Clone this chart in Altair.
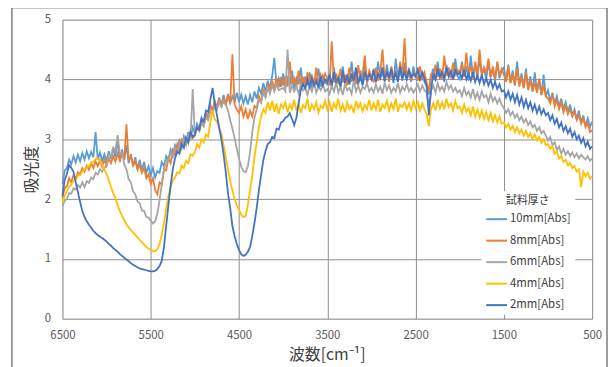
import altair as alt
import pandas as pd

# wavenumber sample positions (cm-1), 6500 -> 500 every 25
wavenumber = list(range(6500, 499, -25))

series_names = ["10mm[Abs]", "8mm[Abs]", "6mm[Abs]", "4mm[Abs]", "2mm[Abs]"]
series_colors = ["#5B9BD5", "#ED7D31", "#A5A5A5", "#FFC000", "#4472C4"]

abs_10mm = [
    2.25, 2.48, 2.52, 2.66, 2.58, 2.72, 2.61, 2.74, 2.63, 2.77, 2.66, 2.80, 2.68, 2.79, 2.70, 3.12, 2.66, 2.78, 2.64, 2.75,
    2.64, 2.80, 2.67, 2.86, 2.70, 3.00, 2.62, 2.83, 2.66, 2.90, 2.60, 2.75, 2.55, 2.70, 2.50, 2.66, 2.48, 2.62, 2.44, 2.55,
    2.40, 2.52, 2.36, 2.47, 2.44, 2.62, 2.55, 2.72, 2.66, 2.83, 2.74, 2.90, 2.80, 2.98, 2.88, 3.05, 2.94, 3.12, 3.00, 3.20,
    3.10, 3.26, 3.18, 3.36, 3.27, 3.45, 3.38, 3.58, 3.47, 3.64, 3.52, 3.70, 3.56, 3.74, 3.58, 3.76, 3.60, 3.72, 3.62, 3.78,
    3.62, 3.75, 3.60, 3.72, 3.58, 3.74, 3.62, 3.80, 3.68, 3.86, 3.76, 3.94, 3.80, 3.98, 3.85, 4.05, 4.36, 3.90, 4.02, 3.88,
    4.10, 3.86, 4.05, 3.90, 4.15, 3.85, 4.02, 3.92, 4.20, 3.88, 4.05, 3.90, 4.12, 3.86, 4.00, 3.94, 4.18, 3.88, 4.06, 3.95,
    3.92, 4.10, 3.88, 4.20, 3.95, 4.05, 3.90, 4.22, 3.94, 4.08, 3.92, 4.30, 3.96, 4.10, 3.90, 4.15, 3.98, 4.25, 3.94, 4.12,
    4.00, 4.18, 3.95, 4.30, 4.02, 4.12, 3.96, 4.25, 4.00, 4.10, 3.94, 4.35, 4.02, 4.15, 3.98, 4.28, 4.00, 4.12, 3.96, 4.22,
    4.02, 4.20, 3.98, 4.12, 3.96, 3.90, 3.75, 4.05, 4.18, 3.98, 4.30, 4.02, 4.15, 3.96, 4.25, 4.04, 4.12, 4.00, 4.35, 4.05,
    4.00, 4.30, 4.05, 4.22, 3.98, 4.40, 4.06, 4.25, 4.02, 4.35, 4.08, 4.20, 4.00, 4.30, 4.04, 4.18, 3.98, 4.28, 4.02, 4.15,
    4.20, 3.98, 4.25, 3.95, 4.15, 3.90, 4.30, 3.92, 4.10, 3.86, 4.18, 3.84, 4.05, 3.80, 4.12, 3.78, 4.00, 3.74, 4.08, 3.72,
    3.82, 3.64, 3.78, 3.60, 3.72, 3.55, 3.68, 3.50, 3.62, 3.46, 3.58, 3.40, 3.50, 3.34, 3.48, 3.28, 3.40, 3.22, 3.35, 3.20, 3.30,
]

abs_8mm = [
    2.02, 2.18, 2.22, 2.35, 2.28, 2.40, 2.34, 2.45, 2.41, 2.52, 2.46, 2.56, 2.49, 2.60, 2.52, 2.63, 2.55, 2.65, 2.54, 2.66,
    2.56, 2.68, 2.60, 2.72, 2.63, 2.76, 2.65, 2.78, 2.66, 3.25, 2.64, 2.72, 2.56, 2.64, 2.49, 2.58, 2.44, 2.52, 2.35, 2.42,
    2.26, 2.35, 2.15, 2.08, 2.28, 2.24, 2.50, 2.48, 2.68, 2.60, 2.82, 2.74, 2.92, 2.82, 2.98, 2.88, 3.03, 2.94, 3.12, 3.02,
    3.06, 3.20, 3.14, 3.32, 3.24, 3.42, 3.36, 3.55, 3.48, 3.63, 3.52, 3.68, 3.54, 3.70, 3.57, 3.74, 3.60, 4.42, 3.58, 3.50,
    3.44, 3.55, 3.38, 3.50, 3.34, 3.48, 3.38, 3.56, 3.52, 3.72, 3.62, 3.82, 3.72, 3.92, 3.80, 3.98, 3.85, 4.02, 3.87, 4.04,
    3.90, 4.05, 3.88, 4.30, 3.92, 4.02, 3.86, 4.15, 3.90, 4.04, 3.88, 4.12, 3.94, 4.06, 3.90, 4.20, 3.92, 4.08, 3.96, 4.10,
    4.02, 3.90, 4.64, 3.95, 4.10, 3.92, 4.18, 3.95, 4.08, 3.90, 4.20, 3.96, 4.12, 3.92, 4.24, 3.98, 4.10, 4.40, 3.95, 4.15,
    4.05, 3.95, 4.20, 3.98, 4.10, 4.50, 4.00, 4.15, 3.96, 4.22, 4.02, 4.12, 3.98, 4.30, 4.05, 4.69, 4.00, 4.18, 3.98, 4.10,
    4.10, 3.98, 4.22, 4.02, 4.12, 3.95, 3.80, 4.10, 4.00, 4.25, 4.04, 4.18, 4.00, 4.40, 4.06, 4.20, 4.02, 4.28, 4.08, 4.16,
    4.12, 4.25, 4.05, 4.45, 4.10, 4.22, 4.02, 4.30, 4.08, 4.50, 4.06, 4.20, 4.10, 4.35, 4.04, 4.22, 4.00, 4.30, 4.06, 4.18,
    4.08, 3.96, 4.22, 3.94, 4.10, 3.90, 4.18, 3.88, 4.05, 3.85, 4.12, 3.82, 4.00, 3.80, 3.95, 3.78, 4.02, 3.74, 3.90, 3.72,
    3.68, 3.60, 3.75, 3.55, 3.66, 3.50, 3.62, 3.45, 3.56, 3.42, 3.50, 3.38, 3.46, 3.32, 3.40, 3.26, 3.35, 3.20, 3.28, 3.12, 3.15,
]

abs_6mm = [
    1.88, 1.97, 2.00, 2.10, 2.09, 2.18, 2.16, 2.23, 2.19, 2.28, 2.20, 2.30, 2.27, 2.36, 2.33, 2.44, 2.41, 2.50, 2.46, 2.52,
    2.58, 2.74, 2.70, 2.86, 2.80, 3.07, 2.76, 2.78, 2.58, 2.50, 2.33, 2.28, 2.13, 2.08, 1.96, 1.93, 1.81, 1.80, 1.70, 1.69,
    1.64, 1.59, 1.63, 1.76, 1.98, 2.26, 2.48, 2.66, 2.64, 2.78, 2.70, 2.86, 2.78, 2.93, 2.84, 2.99, 2.90, 3.06, 2.98, 3.84,
    3.08, 3.18, 3.14, 3.27, 3.22, 3.36, 3.32, 3.46, 3.43, 3.57, 3.50, 3.62, 3.54, 3.64, 3.58, 3.48, 3.32, 3.18, 3.02, 2.84,
    2.68, 2.54, 2.47, 2.45, 2.55, 2.78, 3.12, 3.36, 3.50, 3.66, 3.62, 3.78, 3.70, 3.86, 3.76, 3.90, 3.80, 3.92, 3.82, 3.84,
    3.86, 3.80, 4.50, 3.78, 3.90, 3.80, 3.88, 3.76, 3.92, 3.82, 3.86, 3.74, 3.90, 3.80, 3.95, 3.78, 3.88, 3.82, 3.92, 3.80,
    3.84, 3.76, 3.90, 3.80, 3.95, 3.78, 3.88, 3.74, 3.92, 3.82, 3.86, 3.76, 3.98, 3.80, 3.90, 3.78, 3.88, 3.84, 3.94, 3.80,
    3.86, 3.78, 3.92, 3.80, 3.88, 3.76, 3.95, 3.82, 3.90, 3.78, 3.86, 3.80, 3.94, 3.78, 3.88, 3.82, 3.92, 3.80, 3.86, 3.78,
    3.84, 3.92, 3.80, 3.90, 3.82, 3.78, 3.55, 3.80, 3.90, 3.78, 3.94, 3.82, 3.88, 3.80, 3.96, 3.84, 3.90, 3.80, 3.86, 3.78,
    3.82, 3.72, 3.86, 3.74, 3.80, 3.70, 3.84, 3.68, 3.78, 3.66, 3.80, 3.70, 3.74, 3.62, 3.76, 3.64, 3.70, 3.60, 3.68, 3.58,
    3.52, 3.44, 3.50, 3.40, 3.46, 3.36, 3.42, 3.32, 3.38, 3.28, 3.34, 3.24, 3.30, 3.20, 3.24, 3.14, 3.20, 3.10, 3.14, 3.06,
    2.98, 3.04, 2.90, 2.95, 2.82, 2.88, 2.76, 2.84, 2.74, 2.80, 2.72, 2.78, 2.70, 2.76, 2.68, 2.74, 2.70, 2.66, 2.72, 2.64, 2.68,
]

abs_4mm = [
    1.95, 2.06, 2.13, 2.21, 2.24, 2.31, 2.32, 2.39, 2.40, 2.46, 2.49, 2.54, 2.55, 2.61, 2.62, 2.67, 2.68, 2.64, 2.57, 2.49,
    2.42, 2.32, 2.20, 2.10, 2.02, 1.90, 1.80, 1.72, 1.65, 1.58, 1.53, 1.48, 1.44, 1.40, 1.36, 1.32, 1.28, 1.24, 1.20, 1.17,
    1.15, 1.13, 1.13, 1.16, 1.25, 1.40, 1.60, 1.85, 2.05, 2.20, 2.31, 2.36, 2.45, 2.43, 2.56, 2.52, 2.64, 2.60, 2.75, 2.72,
    2.78, 2.92, 2.86, 3.00, 2.95, 3.08, 3.04, 3.28, 3.48, 3.33, 3.30, 3.18, 3.10, 2.90, 2.70, 2.50, 2.30, 2.15, 2.00, 1.90,
    1.82, 1.74, 1.70, 1.72, 1.90, 2.15, 2.40, 2.70, 2.95, 3.20, 3.38, 3.50, 3.44, 3.62, 3.48, 3.64, 3.46, 3.60, 3.42, 3.58,
    3.52, 3.62, 3.45, 3.58, 3.50, 3.66, 3.48, 3.60, 3.44, 3.57, 3.52, 3.68, 3.46, 3.58, 3.50, 3.62, 3.45, 3.56, 3.52, 3.64,
    3.50, 3.62, 3.46, 3.60, 3.52, 3.68, 3.48, 3.58, 3.45, 3.62, 3.50, 3.56, 3.44, 3.64, 3.52, 3.60, 3.47, 3.58, 3.50, 3.66,
    3.48, 3.60, 3.50, 3.66, 3.46, 3.58, 3.52, 3.64, 3.48, 3.60, 3.50, 3.68, 3.46, 3.58, 3.54, 3.62, 3.50, 3.60, 3.48, 3.64,
    3.52, 3.62, 3.48, 3.60, 3.50, 3.42, 3.22, 3.50, 3.60, 3.48, 3.66, 3.52, 3.62, 3.50, 3.68, 3.54, 3.60, 3.48, 3.64, 3.52,
    3.55, 3.44, 3.58, 3.46, 3.52, 3.40, 3.55, 3.38, 3.50, 3.36, 3.48, 3.34, 3.45, 3.32, 3.44, 3.30, 3.40, 3.28, 3.38, 3.26,
    3.28, 3.20, 3.26, 3.16, 3.22, 3.12, 3.20, 3.10, 3.16, 3.06, 3.14, 3.04, 3.10, 3.00, 3.08, 2.98, 3.04, 2.94, 3.00, 2.90,
    2.92, 2.84, 2.88, 2.76, 2.80, 2.68, 2.72, 2.62, 2.66, 2.56, 2.60, 2.52, 2.55, 2.46, 2.50, 2.20, 2.46, 2.38, 2.44, 2.34, 2.38,
]

abs_2mm = [
    2.05, 2.32, 2.42, 2.57, 2.52, 2.46, 2.28, 2.12, 1.95, 1.80, 1.70, 1.63, 1.57, 1.52, 1.47, 1.43, 1.40, 1.37, 1.35, 1.32,
    1.29, 1.25, 1.22, 1.18, 1.15, 1.12, 1.08, 1.05, 1.02, 0.99, 0.96, 0.93, 0.90, 0.88, 0.86, 0.84, 0.83, 0.82, 0.81, 0.80,
    0.79, 0.79, 0.80, 0.83, 0.88, 0.97, 1.20, 1.55, 1.90, 2.22, 2.50, 2.68, 2.80, 2.76, 2.92, 2.86, 3.02, 2.95, 3.12, 3.04,
    3.08, 3.20, 3.16, 3.34, 3.30, 3.48, 3.46, 3.66, 3.86, 3.60, 3.40, 3.20, 3.00, 2.75, 2.45, 2.10, 1.85, 1.55, 1.38, 1.25,
    1.15, 1.08, 1.05, 1.07, 1.12, 1.20, 1.38, 1.60, 1.85, 2.15, 2.40, 2.65, 2.80, 2.92, 2.95, 3.04, 3.02, 3.18, 3.16, 3.28,
    3.30, 3.36, 3.38, 3.44, 3.34, 3.24, 3.36, 3.60, 3.82, 3.92, 3.85, 4.00, 3.88, 4.02, 3.90, 3.98, 3.86, 4.05, 3.90, 4.00,
    3.95, 4.08, 3.90, 4.12, 3.96, 4.02, 3.88, 4.15, 3.94, 4.06, 3.92, 4.10, 3.98, 4.20, 3.94, 4.05, 3.90, 4.12, 4.00, 4.08,
    4.00, 4.15, 3.96, 4.10, 4.02, 4.20, 3.98, 4.12, 4.04, 4.18, 4.00, 4.10, 3.96, 4.22, 4.02, 4.12, 4.00, 4.16, 4.04, 4.10,
    4.05, 4.15, 4.00, 4.12, 4.02, 3.88, 3.40, 3.82, 4.10, 4.00, 4.18, 4.04, 4.12, 4.02, 4.20, 4.06, 4.14, 4.00, 4.16, 4.08,
    4.12, 4.02, 4.16, 4.00, 4.10, 3.98, 4.12, 3.96, 4.06, 3.94, 4.08, 3.92, 4.02, 3.90, 4.00, 3.86, 3.96, 3.84, 3.92, 3.80,
    3.82, 3.70, 3.80, 3.66, 3.76, 3.62, 3.74, 3.58, 3.70, 3.54, 3.66, 3.52, 3.62, 3.48, 3.58, 3.44, 3.55, 3.42, 3.50, 3.40,
    3.44, 3.32, 3.40, 3.26, 3.34, 3.20, 3.28, 3.14, 3.22, 3.10, 3.18, 3.04, 3.12, 3.00, 3.06, 2.94, 3.02, 2.88, 2.96, 2.84, 2.88,
]

x_ticks = [6500, 5500, 4500, 3500, 2500, 1500, 500]
y_ticks = [0, 1, 2, 3, 4, 5]

all_values = [abs_10mm, abs_8mm, abs_6mm, abs_4mm, abs_2mm]
rows = []
for name, vals in zip(series_names, all_values):
    for wn, v in zip(wavenumber, vals):
        rows.append({"wn": wn, "abs": v, "series": name})
df = pd.DataFrame(rows)

FONT = "Noto Sans CJK JP"
GRID = "#8E8E8E"

x_enc = alt.X(
    "wn:Q",
    scale=alt.Scale(domain=[500, 6500], reverse=True, nice=False, zero=False),
    axis=alt.Axis(
        values=x_ticks, format="d", labelFlush=False, title="波数[cm⁻¹]",
        grid=True, gridColor=GRID, gridWidth=1,
        domain=False, ticks=False, labelPadding=11, labelFontSize=11.5, labelColor="#595959",
        labelFont=FONT, titleFont=FONT, titleFontSize=16, titleFontWeight="normal",
        titleColor="#404040", titleX=267, titleY=36, titleBaseline="middle",
    ),
)
y_enc = alt.Y(
    "abs:Q",
    scale=alt.Scale(domain=[0, 5], nice=False),
    axis=alt.Axis(
        values=y_ticks, title="吸光度", grid=True, gridColor=GRID, gridWidth=1,
        domain=False, ticks=False, labelPadding=12, labelFontSize=11.5, labelColor="#595959",
        labelFont=FONT, titleFont=FONT, titleFontSize=16, titleFontWeight="normal",
        titleColor="#404040", titleX=-31, titleY=151, titleAngle=-90,
        titleBaseline="middle", titleAlign="center",
    ),
)
color_enc = alt.Color(
    "series:N",
    scale=alt.Scale(domain=series_names, range=series_colors),
    legend=alt.Legend(
        title="試料厚さ", orient="none", legendX=423, legendY=173,
        fillColor="white", padding=4, titleFont=FONT, titleFontSize=11,
        titleFontWeight="normal", titleColor="#404040", titleAnchor="middle",
        titlePadding=2, labelFont=FONT, labelFontSize=11.5, labelColor="#404040",
        labelOffset=2, symbolType="stroke", symbolSize=441, symbolStrokeWidth=2,
        rowPadding=4.7,
    ),
)

layers = []
for name in series_names:
    layers.append(
        alt.Chart(df)
        .transform_filter(alt.datum.series == name)
        .mark_line(strokeWidth=1.8)
        .encode(x=x_enc, y=y_enc, color=color_enc)
    )

frame = alt.Chart(pd.DataFrame({"a": [0]})).mark_rect(
    filled=False, stroke="#3A3A3A", strokeWidth=1
).encode(x=alt.value(-51), x2=alt.value(550), y=alt.value(-12), y2=alt.value(370))

chart = alt.layer(*layers, frame).properties(
    width=535, height=302,
    padding={"left": 55, "top": 10, "right": 16, "bottom": 47},
    autosize=alt.AutoSizeParams(type="none"),
).configure_view(stroke=None).configure(background="white")

chart.save("out.html", embed_options={"renderer": "svg", "actions": False})
